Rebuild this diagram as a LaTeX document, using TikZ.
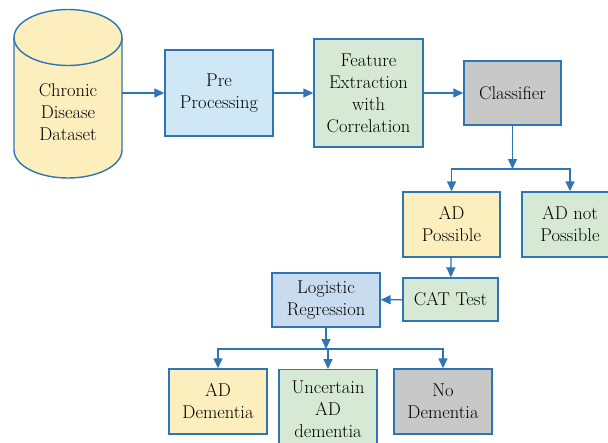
\documentclass[tikz,border=0pt]{standalone}
\usepackage{fontspec}
\usetikzlibrary{arrows.meta}

\definecolor{edgeblue}{RGB}{46,117,182}
\definecolor{fillyellow}{RGB}{253,238,190}
\definecolor{fillblue}{RGB}{208,231,245}
\definecolor{fillgreen}{RGB}{213,233,213}
\definecolor{fillgray}{RGB}{200,200,200}
\definecolor{fillsteel}{RGB}{201,220,239}

\tikzset{
  box/.style={draw=edgeblue, line width=1.4pt, align=center, inner sep=2pt,
    text=black, font=\fontsize{18.5}{22}\selectfont},
  link/.style={draw=edgeblue, line width=1.4pt,
    -{Triangle[length=10pt,width=9pt]}},
  trunk/.style={draw=edgeblue, line width=1.4pt}
}

\begin{document}
\begin{tikzpicture}[x=1pt, y=-1pt]
  \useasboundingbox (0,0) rectangle (608,442);
  % Dataset cylinder
  \filldraw[fill=fillyellow, draw=edgeblue, line width=1.4pt]
    (14,37.5) -- (14,150) arc[start angle=180, end angle=360, x radius=54pt, y radius=28pt]
    -- (122,37.5) arc[start angle=0, end angle=180, x radius=54pt, y radius=28pt] -- cycle;
  \draw[edgeblue, line width=1.4pt]
    (14,37.5) arc[start angle=180, end angle=360, x radius=54pt, y radius=28pt];
  \node[box, draw=none] (data) at (68,112) {Chronic\\Disease\\Dataset};
  \coordinate (dataout) at (122,93);

  % Pipeline boxes
  \node[box, fill=fillblue, minimum width=108pt, minimum height=86pt] (pre) at (219,93) {Pre\\Processing};
  \node[box, fill=fillgreen, minimum width=109pt, minimum height=108pt] (feat) at (368.5,93) {Feature\\Extraction\\with\\Correlation};
  \node[box, fill=fillgray, minimum width=97pt, minimum height=64pt] (cls) at (512.5,93) {Classifier};

  % First decision
  \node[box, fill=fillyellow, minimum width=97pt, minimum height=65pt] (adp) at (451.5,224.5) {AD\\Possible};
  \node[box, fill=fillgreen, minimum width=96pt, minimum height=65pt] (adnp) at (570,224.5) {AD not\\Possible};
  \node[box, fill=fillgreen, minimum width=95pt, minimum height=43pt] (cat) at (450.5,299.5) {CAT Test};
  \node[box, fill=fillsteel, minimum width=108pt, minimum height=54pt] (lr) at (326,300) {Logistic\\Regression};

  % Outcomes
  \node[box, fill=fillyellow, minimum width=98pt, minimum height=65pt] (add) at (218,401.5) {AD\\Dementia};
  \node[box, fill=fillgreen, minimum width=98pt, minimum height=80pt, anchor=north] (unc) at (328,369) {Uncertain\\AD\\dementia};
  \node[box, fill=fillgray, minimum width=98pt, minimum height=65pt] (nod) at (443,401.5) {No\\Dementia};

  \coordinate (split1) at (512.5,169);
  \coordinate (split2) at (326,349);

  % Connectors
  \draw[link] (dataout) -- (pre.west);
  \draw[link] (pre) -- (feat);
  \draw[link] (feat) -- (cls);
  \draw[link] (cls.south) -- (split1);
  \draw[trunk] (adp.north |- split1) -- (adnp.north |- split1);
  \draw[link] (split1) -| (adp.north);
  \draw[link] (split1) -| (adnp.north);
  \draw[link] (adp) -- (cat);
  \draw[link] (cat) -- (lr);
  \draw[link] (lr.south) -- (split2);
  \draw[trunk] (add.north |- split2) -- (nod.north |- split2);
  \draw[link] (split2) -| (add.north);
  \draw[link] (split2) -| (unc.north);
  \draw[link] (split2) -| (nod.north);
\end{tikzpicture}
\end{document}
